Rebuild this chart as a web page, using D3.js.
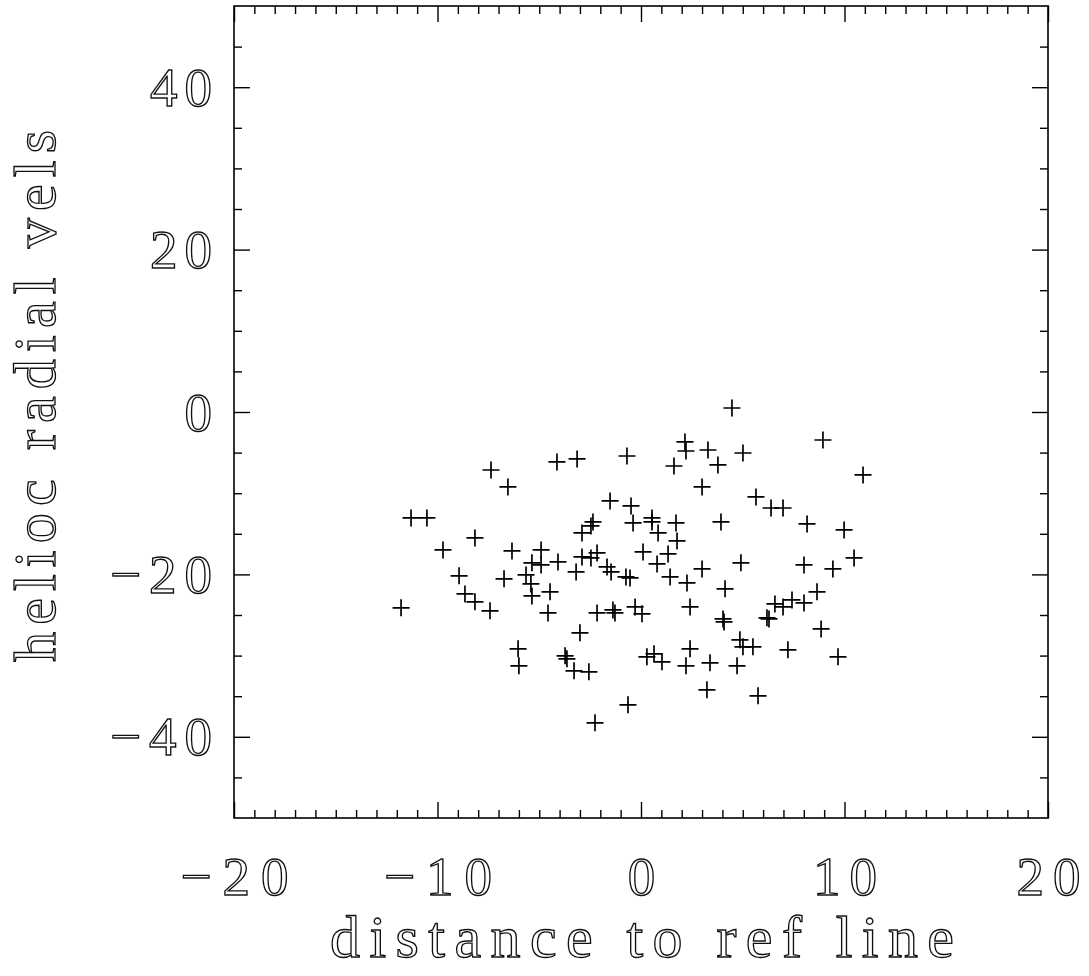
<!DOCTYPE html>
<html>
<head>
<meta charset="utf-8">
<script src="https://cdn.jsdelivr.net/npm/d3@7"></script>
<style>
  html, body { margin: 0; padding: 0; background: #fff; }
  svg { display: block; }
  .lbl { font-family: "Liberation Serif", "DejaVu Serif", serif; fill: #fff; stroke: #111; stroke-width: 1.35px; }
</style>
</head>
<body>
<svg id="chart" width="1089" height="976"></svg>
<script>
// ---- data ----
const distances = [
  -11.79, -11.30, -10.52, -9.73, -8.94, -8.65, -8.16, -8.16, -7.42, -7.37,
  -6.54, -6.73, -6.34, -6.04, -6.00, -5.65, -5.41, -5.36, -4.91, -5.36,
  -4.91, -4.57, -4.47, -4.13, -4.08, -3.73, -3.64, -3.29, -3.19, -3.14,
  -3.00, -2.90, -2.90, -2.56, -2.46, -2.36, -2.46, -2.26, -2.16, -2.16,
  -1.52, -1.47, -1.67, -1.38, -1.28, -0.74, -0.69, -0.54, -0.64, -0.49,
  -0.39, -0.29, 0.05, 0.10, 0.29, 0.54, 0.54, 0.64, 0.79, 0.84,
  1.03, 1.33, 1.43, 1.62, 1.72, 1.77, 2.16, 2.21, 2.26, 2.21,
  2.41, 2.41, 3.00, 3.00, 3.24, 3.29, 3.39, 3.78, 3.93, 4.03,
  4.08, 4.13, 4.47, 4.72, 4.91, 4.86, 5.01, 5.01, 5.50, 5.65,
  5.75, 6.19, 6.29, 6.39, 6.58, 6.98, 6.98, 7.22, 7.42, 8.01,
  8.01, 8.16, 8.65, 8.85, 8.94, 9.43, 9.68, 9.98, 10.47, 10.91
];
const velocities = [
  -24.12, -13.05, -13.05, -16.98, -20.18, -22.40, -15.51, -23.38, -24.49, -7.14,
  -9.23, -20.55, -17.11, -29.17, -31.26, -20.06, -21.17, -22.65, -16.98, -18.58,
  -18.83, -24.74, -22.15, -6.15, -18.46, -30.03, -30.40, -31.88, -19.69, -5.78,
  -27.20, -14.89, -17.85, -32.00, -14.03, -13.54, -17.97, -38.28, -17.35, -24.74,
  -10.95, -19.69, -19.08, -24.37, -24.74, -20.31, -5.42, -20.43, -36.06, -11.57,
  -13.66, -24.00, -24.86, -17.23, -30.15, -13.05, -13.54, -29.78, -18.71, -14.89,
  -30.77, -17.48, -20.31, -6.65, -13.66, -15.88, -3.69, -4.80, -21.05, -31.26,
  -24.00, -29.17, -9.23, -19.32, -34.22, -4.68, -30.89, -6.52, -13.54, -25.48,
  -25.85, -21.78, 0.49, -31.26, -18.58, -28.06, -28.92, -5.05, -28.92, -10.46,
  -34.95, -25.35, -25.48, -11.82, -23.63, -11.82, -24.00, -29.29, -23.14, -18.83,
  -23.51, -13.78, -22.15, -26.71, -3.45, -19.32, -30.15, -14.52, -17.97, -7.75
];
const xDomain = [-20, 20];
const yDomain = [-50, 50];
const xMajorTicks = [-20, -10, 0, 10, 20];
const xMinorTicks = d3.range(-19, 20, 1).filter(v => v % 10 !== 0);
const yMajorTicks = [-40, -20, 0, 20, 40];
const yMinorTicks = [-45, -35, -30, -25, -15, -10, -5, 5, 10, 15, 25, 30, 35, 45];
const xTitle = "distance to ref line";
const yTitle = "helioc radial vels";

// ---- layout ----
const svg = d3.select("#chart");
const L = 234, R = 1048, T = 6, B = 818;
const x = d3.scaleLinear().domain(xDomain).range([L, R]);
const y = d3.scaleLinear().domain(yDomain).range([B, T]);
const MAJ = 16, MIN = 8;

function styleAxis(g) {
  g.select(".domain").remove();
  g.selectAll(".tick line").attr("stroke", "#000").attr("stroke-width", 1.4);
}

// ticks on all four sides (inward)
svg.append("g").attr("transform", `translate(0,${B})`)
  .call(d3.axisBottom(x).tickValues(xMinorTicks).tickSize(-MIN).tickFormat(""))
  .call(styleAxis);
svg.append("g").attr("transform", `translate(0,${T})`)
  .call(d3.axisTop(x).tickValues(xMinorTicks).tickSize(-MIN).tickFormat(""))
  .call(styleAxis);
svg.append("g").attr("transform", `translate(0,${T})`)
  .call(d3.axisTop(x).tickValues(xMajorTicks).tickSize(-MAJ).tickFormat(""))
  .call(styleAxis);
svg.append("g").attr("transform", `translate(${L},0)`)
  .call(d3.axisLeft(y).tickValues(yMinorTicks).tickSize(-MIN).tickFormat(""))
  .call(styleAxis);
svg.append("g").attr("transform", `translate(${R},0)`)
  .call(d3.axisRight(y).tickValues(yMinorTicks).tickSize(-MIN).tickFormat(""))
  .call(styleAxis);
svg.append("g").attr("transform", `translate(${R},0)`)
  .call(d3.axisRight(y).tickValues(yMajorTicks).tickSize(-MAJ).tickFormat(""))
  .call(styleAxis);

// labelled bottom axis
const fmt = d3.format("d");
const gx = svg.append("g").attr("transform", `translate(0,${B})`)
  .call(d3.axisBottom(x).tickValues(xMajorTicks).tickSize(-MAJ).tickPadding(77).tickFormat(fmt))
  .call(styleAxis);
gx.selectAll(".tick text")
  .attr("class", "lbl").attr("dy", null)
  .style("font-size", "55px")
  .attr("fill", null)
  .each(function(d) {
    const s = fmt(d);
    const w = s.length === 1 ? null : (s.length === 2 ? 64 : 108);
    if (w) d3.select(this).attr("textLength", w).attr("lengthAdjust", "spacing");
  });

// labelled left axis
const gy = svg.append("g").attr("transform", `translate(${L},0)`)
  .call(d3.axisLeft(y).tickValues(yMajorTicks).tickSize(-MAJ).tickPadding(22).tickFormat(fmt))
  .call(styleAxis);
gy.selectAll(".tick text")
  .attr("class", "lbl").attr("dy", "0.33em")
  .style("font-size", "55px")
  .attr("fill", null)
  .each(function(d) {
    const s = fmt(d);
    const w = s.length === 1 ? null : (s.length === 2 ? 62 : 102);
    if (w) d3.select(this).attr("textLength", w).attr("lengthAdjust", "spacing");
  });

// frame
svg.append("rect")
  .attr("x", L).attr("y", T).attr("width", R - L).attr("height", B - T)
  .attr("fill", "none").attr("stroke", "#000").attr("stroke-width", 1.6);

// axis titles
svg.append("text").attr("class", "lbl")
  .attr("x", (L + R) / 2 + 1).attr("y", 957)
  .attr("text-anchor", "middle")
  .attr("textLength", 624).attr("lengthAdjust", "spacing")
  .style("font-size", "60px")
  .text(xTitle);

svg.append("text").attr("class", "lbl")
  .attr("transform", `translate(55, ${396}) rotate(-90)`)
  .attr("text-anchor", "middle")
  .attr("textLength", 532).attr("lengthAdjust", "spacing")
  .style("font-size", "60px")
  .text(yTitle);

// data points as plus markers
const pts = distances.map((d, i) => ({ d, v: velocities[i] }));
const S = 8.5;
svg.append("g").selectAll("path").data(pts).join("path")
  .attr("d", p => {
    const cx = x(p.d), cy = y(p.v);
    return `M${cx - S},${cy}H${cx + S}M${cx},${cy - S}V${cy + S}`;
  })
  .attr("stroke", "#000").attr("stroke-width", 1.7).attr("fill", "none");
</script>
</body>
</html>
